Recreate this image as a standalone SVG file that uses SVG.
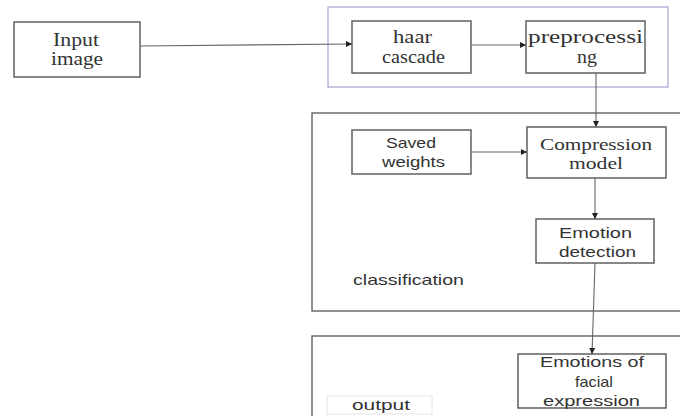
<svg xmlns="http://www.w3.org/2000/svg" width="680" height="416" viewBox="0 0 680 416">
<defs>
<marker id="arr" viewBox="0 0 10 10" refX="10" refY="5" markerWidth="6" markerHeight="6" markerUnits="userSpaceOnUse" orient="auto">
<path d="M0,0 L10,5 L0,10 z" fill="#222"/>
</marker>
</defs>
<style>
.box{fill:#fff;stroke:#555;stroke-width:1.4}
.grp{fill:none;stroke:#555;stroke-width:1.3}
.grp2{fill:none;stroke:#a9acd2;stroke-width:1.3}
.serif{font-family:"Liberation Serif","Times New Roman",serif;font-size:18px;fill:#333}
.serif16{font-size:16px}
.sans{font-family:"Liberation Sans",Arial,sans-serif;font-size:15px;fill:#333}
.conn{stroke:#666;stroke-width:1.1;fill:none;marker-end:url(#arr)}
</style>
<rect width="680" height="416" fill="#fff"/>
<g id="group-detect">
<rect class="grp2" x="328" y="7" width="340" height="80"/>
</g>
<g id="group-classification">
<rect class="grp" x="312" y="113" width="372" height="198"/>
<text class="sans" x="353" y="285" textLength="111" lengthAdjust="spacingAndGlyphs">classification</text>
</g>
<g id="group-output">
<rect class="grp" x="312" y="336" width="372" height="90"/>
<rect x="327" y="396" width="105" height="18" fill="#fff" stroke="#e4e4e4" stroke-width="1"/>
<text class="sans" x="352" y="410" textLength="58" lengthAdjust="spacingAndGlyphs">output</text>
</g>
<g id="input-image">
<rect class="box" x="14" y="22" width="126" height="55"/>
<text class="serif" x="53" y="46" textLength="46" lengthAdjust="spacingAndGlyphs">Input</text>
<text class="serif" x="51" y="65" textLength="52" lengthAdjust="spacingAndGlyphs">image</text>
</g>
<g id="haar-cascade">
<rect class="box" x="352" y="21" width="119" height="52"/>
<text class="serif" x="393" y="43" textLength="39" lengthAdjust="spacingAndGlyphs">haar</text>
<text class="serif" x="382" y="63" textLength="63" lengthAdjust="spacingAndGlyphs">cascade</text>
</g>
<g id="preprocessing">
<rect class="box" x="526" y="21" width="119" height="52"/>
<text class="serif" x="528" y="43" textLength="115" lengthAdjust="spacingAndGlyphs">preprocessi</text>
<text class="serif" x="577" y="63" textLength="20" lengthAdjust="spacingAndGlyphs">ng</text>
</g>
<g id="saved-weights">
<rect class="box" x="352" y="130" width="119" height="44"/>
<text class="sans" x="386" y="148" textLength="50" lengthAdjust="spacingAndGlyphs">Saved</text>
<text class="sans" x="382" y="167" textLength="63" lengthAdjust="spacingAndGlyphs">weights</text>
</g>
<g id="compression-model">
<rect class="box" x="527" y="127" width="139" height="51"/>
<text class="serif serif16" x="540" y="150" textLength="112" lengthAdjust="spacingAndGlyphs">Compression</text>
<text class="serif serif16" x="569" y="169" textLength="54" lengthAdjust="spacingAndGlyphs">model</text>
</g>
<g id="emotion-detection">
<rect class="box" x="536" y="219" width="118" height="44"/>
<text class="sans" x="559" y="238" textLength="73" lengthAdjust="spacingAndGlyphs">Emotion</text>
<text class="sans" x="559" y="257" textLength="77" lengthAdjust="spacingAndGlyphs">detection</text>
</g>
<g id="emotions-facial-expression">
<rect class="box" x="518" y="354" width="148" height="54"/>
<text class="sans" x="540" y="367" textLength="104" lengthAdjust="spacingAndGlyphs">Emotions of</text>
<text class="sans" x="575" y="387" textLength="38" lengthAdjust="spacingAndGlyphs">facial</text>
<text class="sans" x="543" y="406" textLength="97" lengthAdjust="spacingAndGlyphs">expression</text>
</g>
<g id="connectors">
<line class="conn" x1="140" y1="46" x2="352" y2="44"/>
<line class="conn" x1="471" y1="45" x2="526" y2="45"/>
<line class="conn" x1="596" y1="73" x2="596" y2="127"/>
<line class="conn" x1="471" y1="152" x2="527" y2="152"/>
<line class="conn" x1="595" y1="178" x2="595" y2="219"/>
<line class="conn" x1="595" y1="263" x2="592" y2="354"/>
</g>
</svg>
